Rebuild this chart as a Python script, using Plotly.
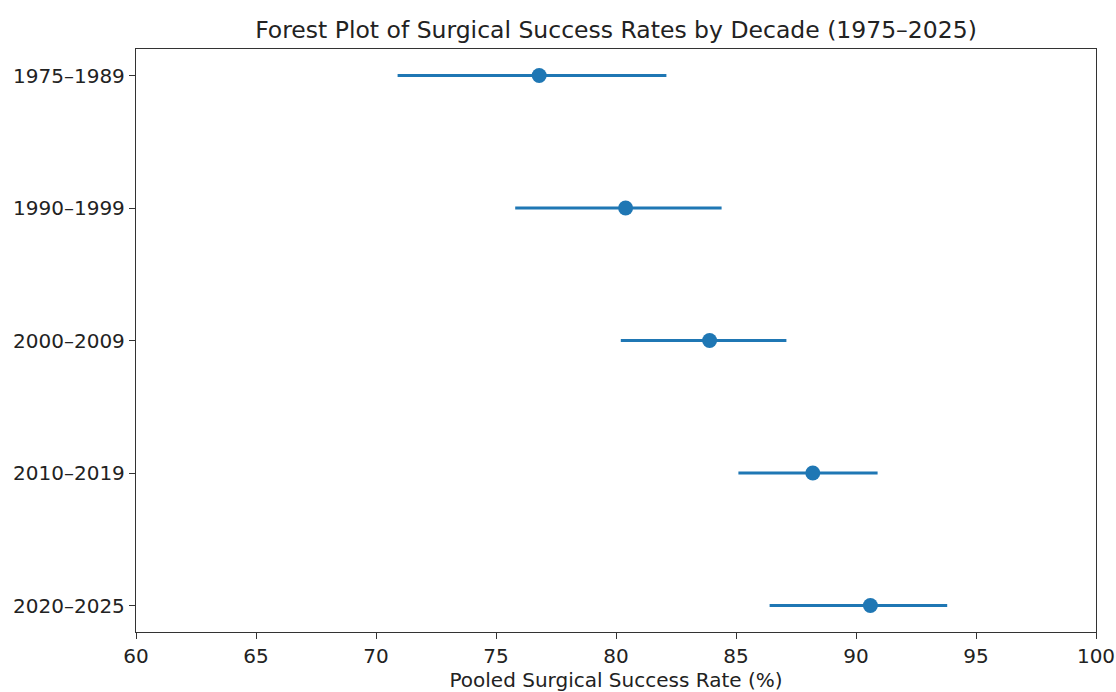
import plotly.graph_objects as go

periods = ["1975–1989", "1990–1999", "2000–2009", "2010–2019", "2020–2025"]
estimates = [76.8, 80.4, 83.9, 88.2, 90.6]
lower = [70.9, 75.8, 80.2, 85.1, 86.4]
upper = [82.1, 84.4, 87.1, 90.9, 93.8]

err_plus = [u - e for u, e in zip(upper, estimates)]
err_minus = [e - l for e, l in zip(estimates, lower)]

color = "#1f77b4"
font = "DejaVu Sans"

fig = go.Figure()
fig.add_trace(go.Scatter(
    x=estimates,
    y=list(range(len(periods))),
    mode="markers",
    marker=dict(color=color, size=15),
    error_x=dict(type="data", array=err_plus, arrayminus=err_minus,
                 color=color, thickness=3, width=0),
    showlegend=False,
))

fig.update_layout(
    width=1116, height=692,
    margin=dict(l=136, r=20, t=49, b=60, autoexpand=False),
    paper_bgcolor="white", plot_bgcolor="white",
    font=dict(family=font, size=20, color="#222"),
    title=dict(text="Forest Plot of Surgical Success Rates by Decade (1975–2025)",
               x=(136 + 1096) / 2 / 1116, xanchor="center",
               y=1 - 30 / 692, yanchor="middle",
               font=dict(size=23.5, family=font, color="#222")),
)
fig.update_xaxes(
    range=[60, 100], tickvals=list(range(60, 101, 5)),
    showgrid=False, zeroline=False,
    showline=True, linecolor="#333", linewidth=1.3, mirror=True,
    ticks="outside", ticklen=6, tickcolor="#333",
    tickfont=dict(size=20), automargin=False,
    title=dict(text="Pooled Surgical Success Rate (%)", font=dict(size=20), standoff=4),
)
fig.update_yaxes(
    range=[4.2, -0.2], tickvals=list(range(len(periods))), ticktext=periods,
    showgrid=False, zeroline=False,
    showline=True, linecolor="#333", linewidth=1.3, mirror=True,
    ticks="outside", ticklen=6, tickcolor="#333",
    tickfont=dict(size=20), automargin=False,
)

fig.write_html("out.html")
